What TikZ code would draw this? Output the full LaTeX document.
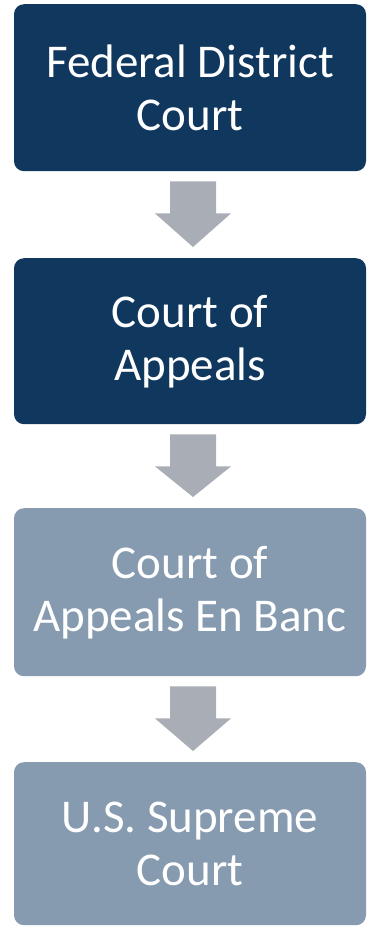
\documentclass[tikz,border=0pt]{standalone}
\usepackage{fontspec}
\setmainfont{Carlito}
\usetikzlibrary{calc}
\definecolor{navy}{RGB}{16,55,94}
\definecolor{slate}{RGB}{134,154,176}
\definecolor{arrowgray}{RGB}{169,173,181}
\begin{document}
\begin{tikzpicture}[x=1pt,y=-1pt,
  court/.style={rounded corners=10pt, minimum width=352pt, inner sep=0pt, anchor=north,
    text=white, align=center, font=\fontsize{47}{53}\selectfont},
  dark/.style={court, fill=navy},
  light/.style={court, fill=slate},
  flowarrow/.style={fill=arrowgray}]
\useasboundingbox (0,0) rectangle (367,926);
\node[dark, minimum height=167pt] (b1) at (190,4) {Federal District\\Court};
\node[dark, minimum height=166pt] (b2) at (190,258) {Court of\\Appeals};
\node[light, minimum height=168pt] (b3) at (190,508) {Court of\\Appeals En Banc};
\node[light, minimum height=163pt] (b4) at (190,762) {U.S. Supreme\\Court};
\foreach \a/\b in {b1/b2, b2/b3, b3/b4}{
  \fill[flowarrow] ($(\a.south)+(-20,10)$) -- ($(\a.south)+(26,10)$)
    -- ($(\a.south)+(26,42)$) -- ($(\a.south)+(41,42)$)
    -- ($(\b.north)+(3,-11)$) -- ($(\a.south)+(-35,42)$)
    -- ($(\a.south)+(-20,42)$) -- cycle;
}
\end{tikzpicture}
\end{document}
